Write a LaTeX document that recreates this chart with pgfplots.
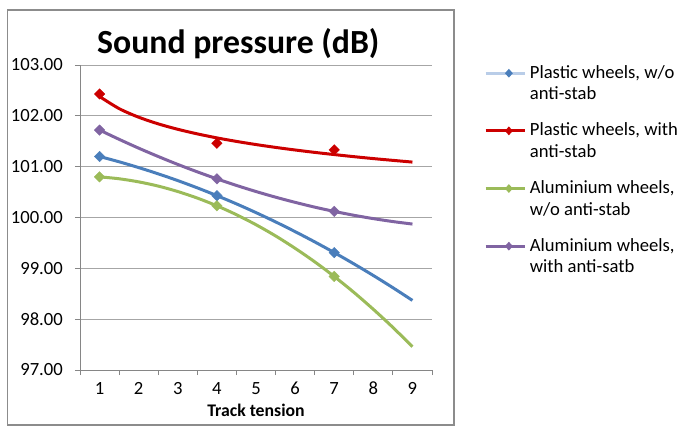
\documentclass[border=0pt]{standalone}
\usepackage{fontspec}
\setmainfont{Carlito}
\usepackage{pgfplots}
\pgfplotsset{compat=1.18}
\usetikzlibrary{shapes.geometric}
\definecolor{cBlue}{HTML}{4A7EBB}
\definecolor{cBlueLight}{HTML}{B9CDE8}
\definecolor{cRed}{HTML}{CC0000}
\definecolor{cGreen}{HTML}{9BBB59}
\definecolor{cPurple}{HTML}{8064A2}
\definecolor{gridgray}{HTML}{A6A6A6}
\definecolor{axisgray}{HTML}{868686}
\definecolor{boxgray}{HTML}{8C8C8C}

\begin{document}
\begin{tikzpicture}
\path[use as bounding box] (0bp,0bp) rectangle (678bp,430bp);
\draw[boxgray, line width=1.2bp] (7.5bp,5bp) rectangle (454bp,420bp);
\begin{axis}[
  at={(80bp,60bp)}, anchor=south west,
  width=352bp, height=305bp, scale only axis,
  xmin=0.5, xmax=9.5, ymin=97, ymax=103,
  axis x line*=bottom, axis y line*=left,
  axis line style={draw=axisgray, line width=0.8bp},
  xtick={1,...,9},
  major x tick style={draw=none},
  minor xtick={0.5,1.5,...,9.5},
  minor tick length=5bp, major tick length=5bp,
  tick align=outside,
  tick style={draw=axisgray, line width=0.8bp},
  ytick={97,98,...,103},
  ymajorgrids, grid style={draw=gridgray, line width=0.8bp},
  /pgf/number format/assume math mode=true,
  yticklabel={\pgfmathprintnumber[fixed, fixed zerofill, precision=2]{\tick}},
  tick label style={font=\fontsize{18.7}{20}\selectfont, inner sep=0pt},
  yticklabel style={anchor=east, xshift=-12bp},
  xticklabel style={anchor=north, yshift=-7bp},
  xlabel={\textbf{Track tension}},
  xlabel style={font=\fontsize{17.8}{20}\selectfont, at={(axis description cs:0.5,0)}, anchor=base, yshift=-46bp, inner sep=0pt},
  legend style={draw=none, fill=none, at={(1.1477,1.0)}, anchor=north west, inner sep=0pt,
    row sep=21.6bp, column sep=3.7bp,
    font=\fontsize{18.7}{21.7}\selectfont,
    nodes={inner sep=0pt, align=left}},
  legend cell align=left,
]
% trendlines
\addplot[cBlue, line width=3bp, smooth, forget plot] coordinates {
 (1,101.200) (1.5,101.096) (2,100.982) (2.5,100.859) (3,100.726) (3.5,100.583)
 (4,100.430) (4.5,100.268) (5,100.096) (5.5,99.914) (6,99.722) (6.5,99.521)
 (7,99.310) (7.5,99.089) (8,98.859) (8.5,98.619) (9,98.369)};
\addplot[cRed, line width=3bp, smooth, forget plot] coordinates {
 (1,102.380) (1.5,102.142) (2,101.973) (2.5,101.842) (3,101.735) (3.5,101.645)
 (4,101.566) (4.5,101.497) (5,101.435) (5.5,101.379) (6,101.328) (6.5,101.281)
 (7,101.238) (7.5,101.197) (8,101.159) (8.5,101.124) (9,101.090)};
\addplot[cGreen, line width=3bp, smooth, forget plot] coordinates {
 (1,100.800) (1.5,100.762) (2,100.701) (2.5,100.618) (3,100.511) (3.5,100.382)
 (4,100.230) (4.5,100.055) (5,99.858) (5.5,99.638) (6,99.394) (6.5,99.129)
 (7,98.840) (7.5,98.529) (8,98.194) (8.5,97.838) (9,97.458)};
\addplot[cPurple, line width=3bp, smooth, forget plot] coordinates {
 (1,101.720) (1.5,101.538) (2,101.364) (2.5,101.200) (3,101.044) (3.5,100.898)
 (4,100.760) (4.5,100.631) (5,100.511) (5.5,100.400) (6,100.298) (6.5,100.204)
 (7,100.120) (7.5,100.044) (8,99.978) (8.5,99.920) (9,99.871)};
% data markers
\addplot[only marks, mark=square*, mark size=3.7bp, mark options={rotate=45, line width=0.4bp}, color=cBlue,
  legend image code/.code={\draw[cBlueLight, line width=3bp] (0bp,10bp) -- (39bp,10bp);
    \node[diamond, fill=cBlue, inner sep=0pt, minimum width=8bp, minimum height=9bp] at (19bp,10bp) {};}]
  coordinates {(1,101.20) (4,100.43) (7,99.31)};
\addlegendentry{Plastic wheels, w/o\\anti-stab}
\addplot[only marks, mark=square*, mark size=3.7bp, mark options={rotate=45, line width=0.4bp}, color=cRed,
  legend image code/.code={\draw[cRed, line width=3bp] (0bp,10bp) -- (39bp,10bp);
    \node[diamond, fill=cRed, inner sep=0pt, minimum width=8bp, minimum height=9bp] at (19bp,10bp) {};}]
  coordinates {(1,102.43) (4,101.46) (7,101.33)};
\addlegendentry{Plastic wheels, with\\anti-stab}
\addplot[only marks, mark=square*, mark size=3.7bp, mark options={rotate=45, line width=0.4bp}, color=cGreen,
  legend image code/.code={\draw[cGreen, line width=3bp] (0bp,10bp) -- (39bp,10bp);
    \node[diamond, fill=cGreen, inner sep=0pt, minimum width=8bp, minimum height=9bp] at (19bp,10bp) {};}]
  coordinates {(1,100.80) (4,100.23) (7,98.84)};
\addlegendentry{Aluminium wheels,\\w/o anti-stab}
\addplot[only marks, mark=square*, mark size=3.7bp, mark options={rotate=45, line width=0.4bp}, color=cPurple,
  legend image code/.code={\draw[cPurple, line width=3bp] (0bp,10bp) -- (39bp,10bp);
    \node[diamond, fill=cPurple, inner sep=0pt, minimum width=8bp, minimum height=9bp] at (19bp,10bp) {};}]
  coordinates {(1,101.72) (4,100.76) (7,100.12)};
\addlegendentry{Aluminium wheels,\\with anti-satb}
\end{axis}
\node[anchor=base, font=\fontsize{33.9}{36}\selectfont\bfseries, inner sep=0pt] at (238.3bp,376.7bp) {Sound pressure (dB)};
\end{tikzpicture}
\end{document}
